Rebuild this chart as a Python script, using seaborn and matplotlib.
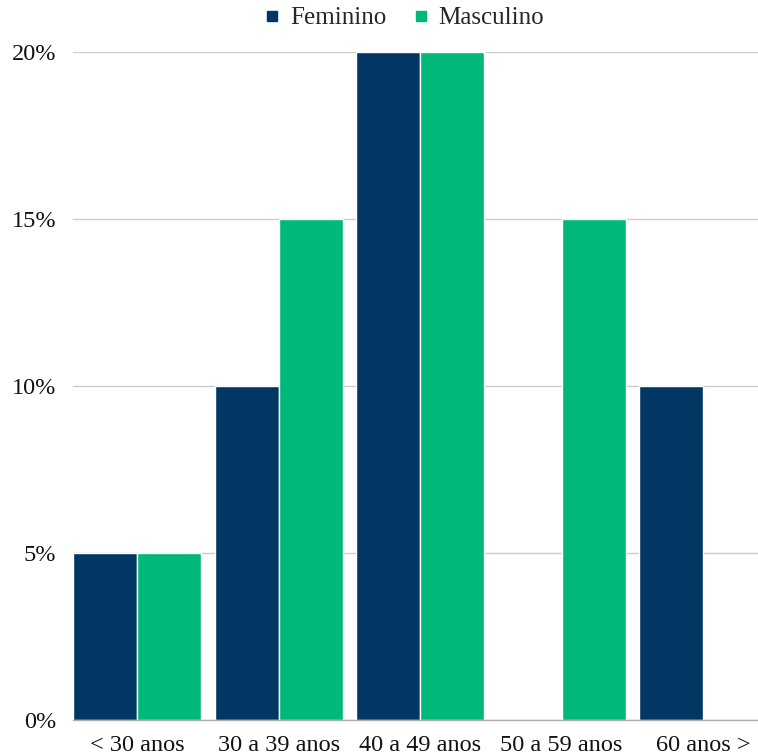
import matplotlib
matplotlib.use("Agg")
import matplotlib.pyplot as plt
import seaborn as sns
import pandas as pd
from matplotlib.lines import Line2D

categories = ["< 30 anos", "30 a 39 anos", "40 a 49 anos", "50 a 59 anos", "60 anos >"]
feminino = [5, 10, 20, 0, 10]
masculino = [5, 15, 20, 15, 0]
series_names = ["Feminino", "Masculino"]
colors = ["#023663", "#00B87A"]
yticks = [0, 5, 10, 15, 20]

df = pd.DataFrame({
    "cat": categories * 2,
    "val": feminino + masculino,
    "serie": [series_names[0]] * len(categories) + [series_names[1]] * len(categories),
})

sns.set_theme(style="white")
plt.rcParams["font.family"] = ["Liberation Serif", "DejaVu Serif"]

fig = plt.figure(figsize=(7.58, 7.55), dpi=100)
ax = fig.add_axes([73 / 758, 35 / 755, (758 - 73) / 758, (720 - 52) / 755])

sns.barplot(data=df, x="cat", y="val", hue="serie", palette=colors,
            width=0.906, gap=0.0, edgecolor="white", linewidth=1.0,
            legend=False, ax=ax, saturation=1)

ax.set_xlim(-0.456, 4.39)
ax.set_ylim(0, 20)
ax.set_yticks(yticks)
ax.set_yticklabels([f"{v}%" for v in yticks])
ax.grid(axis="y", color="#cccccc", linewidth=1)
ax.set_axisbelow(True)
for s in ["left", "right", "top"]:
    ax.spines[s].set_visible(False)
ax.spines["bottom"].set_color("#b0b0b0")
ax.spines["bottom"].set_linewidth(1)
ax.tick_params(axis="both", length=0, labelsize=17.5, colors="#111111")
ax.tick_params(axis="y", pad=12)
ax.tick_params(axis="x", pad=11)
ax.set_xlabel("")
ax.set_ylabel("")

handles = [Line2D([0], [0], marker="s", linestyle="", markersize=6.5,
                  markerfacecolor=c, markeredgecolor=c) for c in colors]
fig.legend(handles, series_names, loc="center", bbox_to_anchor=(402 / 758, 1 - 18 / 755),
           ncol=2, frameon=False, fontsize=18, handletextpad=0.2, columnspacing=0.9,
           handlelength=1.0)

fig.savefig("out.png", dpi=100)
